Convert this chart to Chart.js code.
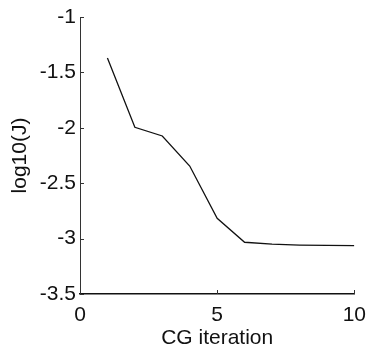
<!DOCTYPE html>
<html>
<head>
<meta charset="utf-8">
<script src="https://cdn.jsdelivr.net/npm/chart.js@4.4.1/dist/chart.umd.min.js"></script>
<style>
  html,body{margin:0;padding:0;background:#fff;}
  #wrap{width:375px;height:351px;position:relative;}
</style>
</head>
<body>
<div id="wrap"><canvas id="c"></canvas></div>
<script>
// --- data ---
const iterations = [1,2,3,4,5,6,7,8,9,10];
const logJ = [-1.37,-1.995,-2.074,-2.345,-2.817,-3.033,-3.05,-3.058,-3.062,-3.064];
const xTicks = [0,5,10];
const yTicks = [-1,-1.5,-2,-2.5,-3,-3.5];

const FONT = "'Liberation Sans', Arial, sans-serif";
const INK = '#111';

// inward MATLAB-style tick marks
const inwardTicks = {
  id:'inwardTicks',
  afterDraw(chart){
    const {ctx, chartArea:a, scales:{x,y}} = chart;
    ctx.save();
    ctx.strokeStyle = '#333'; ctx.lineWidth = 1;
    ctx.beginPath();
    yTicks.forEach(v=>{ const p = Math.round(y.getPixelForValue(v))+0.5; ctx.moveTo(a.left,p); ctx.lineTo(a.left+4,p); });
    xTicks.forEach(v=>{ const p = Math.round(x.getPixelForValue(v))+0.5; ctx.moveTo(p,a.bottom); ctx.lineTo(p,a.bottom-4); });
    ctx.stroke();
    ctx.restore();
  }
};

new Chart(document.getElementById('c'),{
  type:'line',
  data:{datasets:[{
    data: iterations.map((it,i)=>({x:it,y:logJ[i]})),
    borderColor:INK, borderWidth:1.3, pointRadius:0, tension:0, fill:false
  }]},
  options:{
    responsive:true, maintainAspectRatio:false, animation:false,
    layout:{padding:{top:17,right:17,left:0,bottom:0}},
    plugins:{legend:{display:false}, tooltip:{enabled:false}},
    scales:{
      x:{
        type:'linear', min:0, max:10,
        afterBuildTicks:s=>{ s.ticks = xTicks.map(v=>({value:v})); },
        afterFit:s=>{ s.height = 57; },
        grid:{display:false, drawTicks:false},
        border:{display:true, color:INK, width:1.5},
        ticks:{color:INK, padding:9, maxRotation:0, font:{family:FONT, size:21}, callback:v=>String(v)},
        title:{display:true, text:'CG iteration', color:INK, padding:{top:0,bottom:0}, font:{family:FONT, size:21}}
      },
      y:{
        min:-3.5, max:-1,
        afterBuildTicks:s=>{ s.ticks = yTicks.map(v=>({value:v})); },
        afterFit:s=>{ s.width = 80; },
        grid:{display:false, drawTicks:false},
        border:{display:true, color:'#333', width:1},
        ticks:{color:INK, padding:4, font:{family:FONT, size:21}, callback:v=>String(v)},
        title:{display:true, text:'log10(J)', color:INK, padding:{top:8,bottom:0}, font:{family:FONT, size:21}}
      }
    }
  },
  plugins:[inwardTicks]
});
</script>
</body>
</html>
